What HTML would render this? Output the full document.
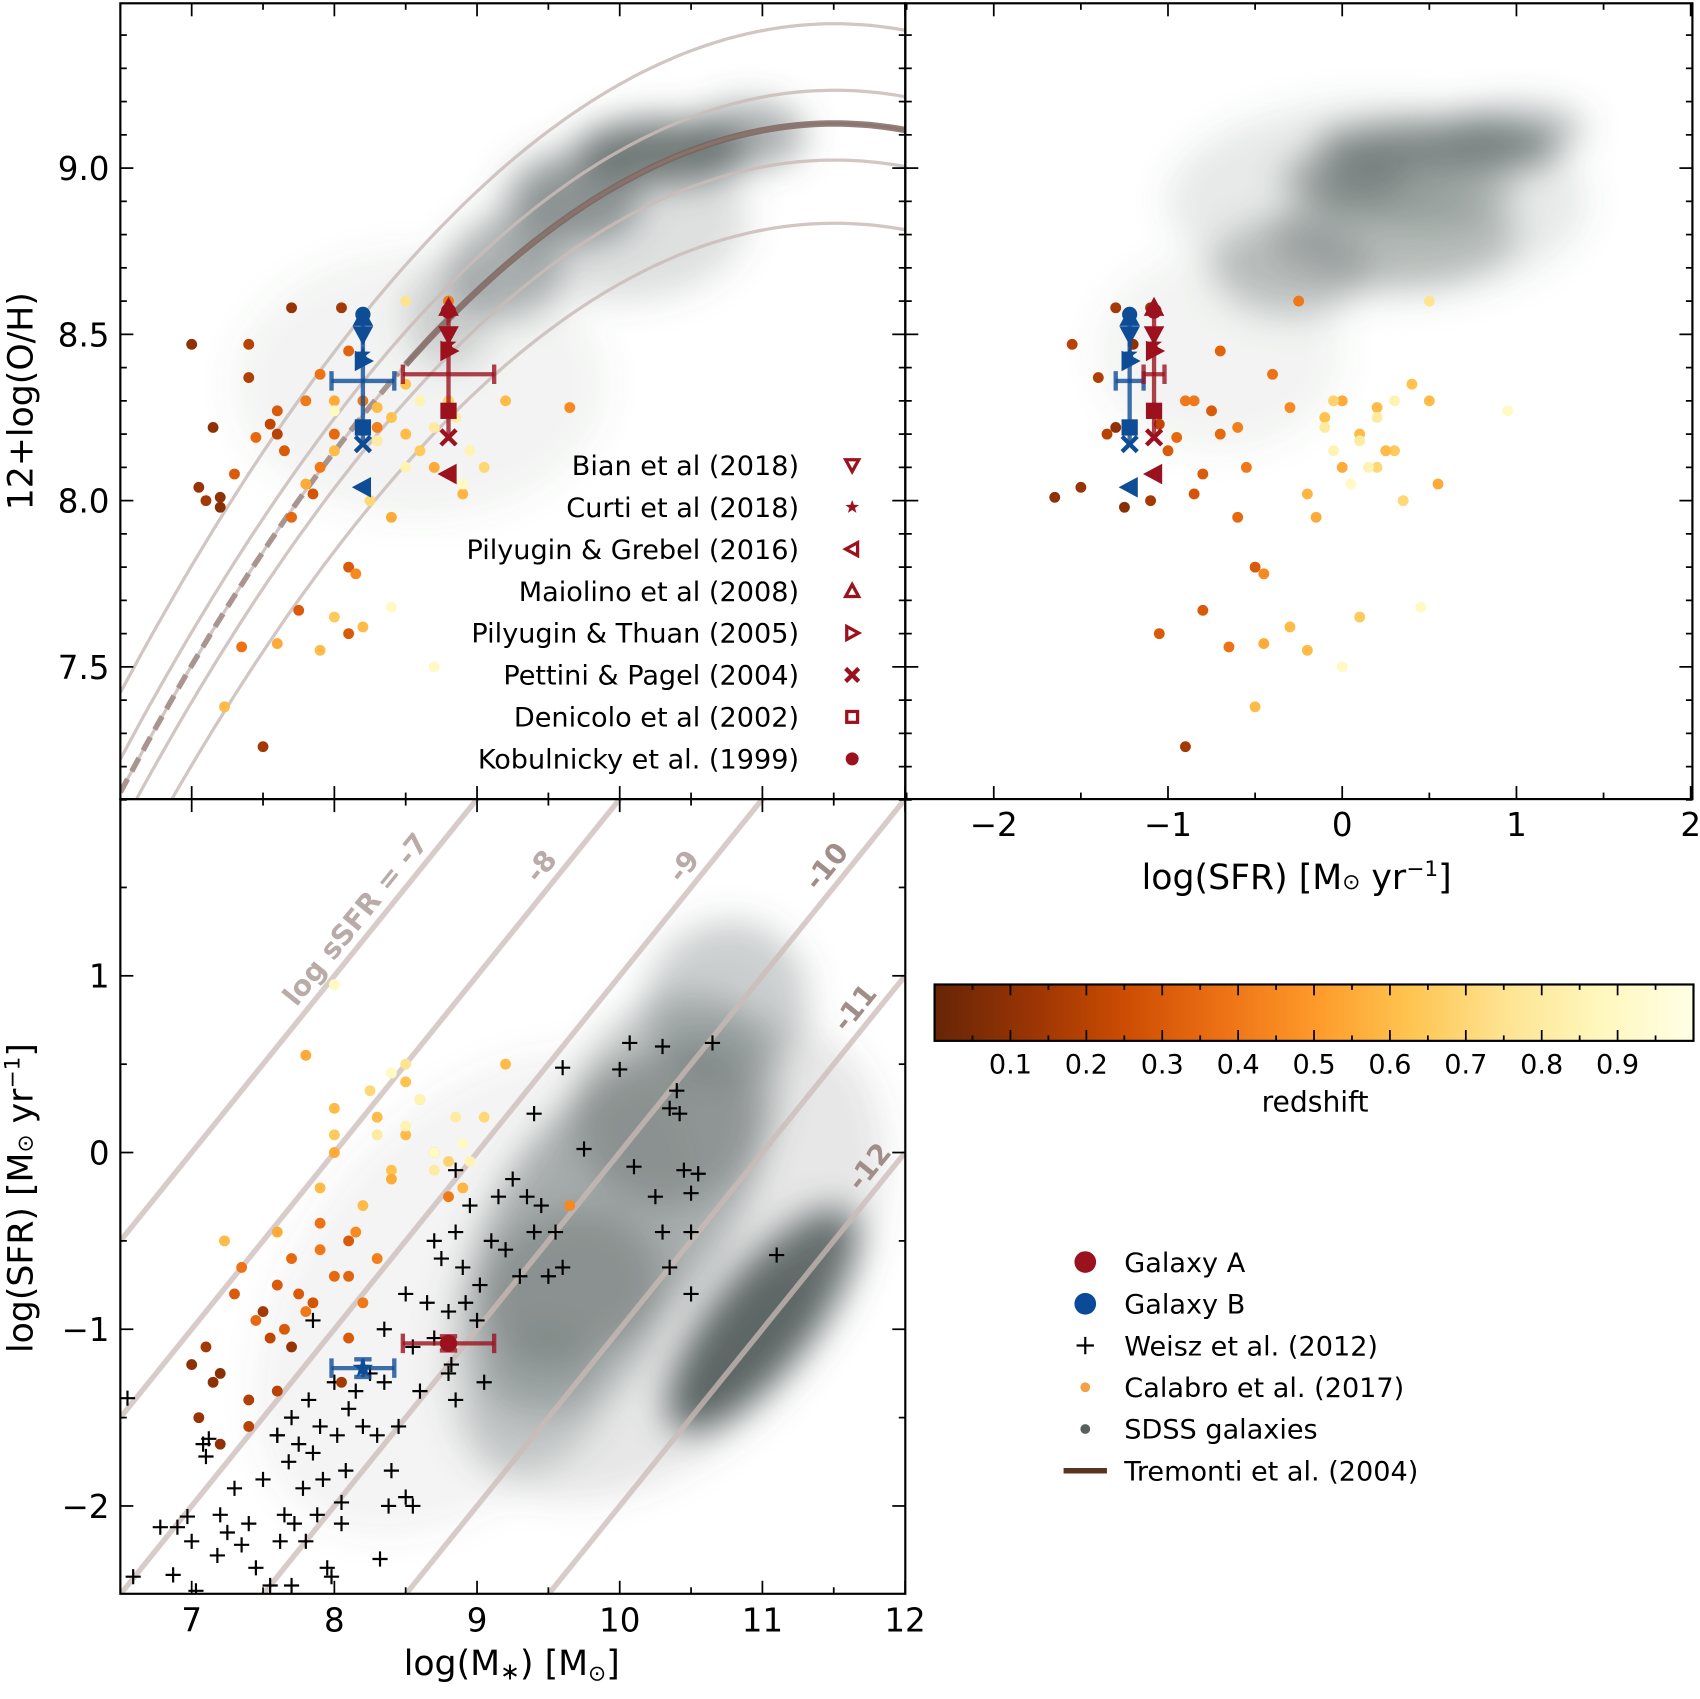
<!DOCTYPE html>
<html><head><meta charset="utf-8"><style>
html,body{margin:0;padding:0;background:#fff;overflow:hidden;width:1700px;height:1699px}
svg{display:block;overflow:hidden}
text{font-family:"DejaVu Sans","Liberation Sans",sans-serif;fill:#000}
</style></head><body>
<svg id="fig" width="1700" height="1699" viewBox="0 0 1568 1567" xmlns="http://www.w3.org/2000/svg">
<defs>
<clipPath id="cTL"><rect x="111" y="3" width="724" height="734"/></clipPath>
<clipPath id="cTR"><rect x="835" y="3" width="726" height="734"/></clipPath>
<clipPath id="cBL"><rect x="111" y="737" width="724" height="733"/></clipPath>
<filter id="blur" x="-50%" y="-50%" width="200%" height="200%"><feGaussianBlur stdDeviation="16"/></filter>
<linearGradient id="cmap" x1="0" x2="1" y1="0" y2="0">
<stop offset="0" stop-color="#662506"/><stop offset="0.125" stop-color="#993404"/><stop offset="0.25" stop-color="#cc4c02"/><stop offset="0.375" stop-color="#ec7014"/><stop offset="0.5" stop-color="#fe9929"/><stop offset="0.625" stop-color="#fec44f"/><stop offset="0.75" stop-color="#fee391"/><stop offset="0.875" stop-color="#fff7bc"/><stop offset="1" stop-color="#ffffe5"/>
</linearGradient>
</defs>
<g id="gTL" clip-path="url(#cTL)"></g>
<g id="gTR" clip-path="url(#cTR)"></g>
<g id="gBL" clip-path="url(#cBL)"></g>
<g id="gAx"></g>
</svg>
<script>
// ---- data ----
const calMass=[7.0,7.05,7.1,7.15,7.2,7.4,7.5,7.7,8.05,7.4,7.6,7.2,7.55,7.3,7.45,7.6,7.7,7.8,7.9,8.0,8.1,8.2,7.65,7.35,7.75,8.1,8.15,9.65,7.85,8.3,7.9,8.1,8.8,7.6,7.9,8.0,8.2,8.0,8.3,8.4,8.5,8.6,8.7,8.9,9.2,8.5,7.8,8.0,7.23,8.25,8.8,8.4,9.05,8.3,8.5,8.6,8.7,8.9,8.4,8.7,8.5,8.85,8.95,8.0];
const calOH=[8.47,8.04,8.0,8.22,8.01,8.37,7.26,8.58,8.58,8.47,8.2,7.98,8.23,8.08,8.19,8.27,7.95,8.3,8.1,8.2,7.8,8.3,8.15,7.56,7.67,7.6,7.78,8.28,8.02,8.22,8.38,8.45,8.6,7.57,7.55,7.65,7.62,8.3,8.28,8.25,8.2,8.15,8.1,8.02,8.3,8.35,8.05,8.15,7.38,8.0,8.3,7.95,8.1,8.18,8.1,8.3,8.22,8.05,7.68,7.5,8.6,8.25,8.15,8.27];
const calSFR=[-1.2,-1.5,-1.1,-1.3,-1.65,-1.4,-0.9,-1.1,-1.3,-1.55,-1.35,-1.25,-1.05,-0.8,-0.95,-0.75,-0.6,-0.9,-0.55,-0.7,-0.5,-0.85,-1.0,-0.65,-0.8,-1.05,-0.45,-0.3,-0.85,-0.6,-0.4,-0.7,-0.25,-0.45,-0.2,0.1,-0.3,0.0,0.2,-0.1,0.1,0.3,0.0,-0.2,0.5,0.4,0.55,0.25,-0.5,0.35,-0.05,-0.15,0.2,0.1,0.15,0.3,-0.1,0.05,0.45,0.0,0.5,0.2,-0.05,0.95];
const calZ=[0.1,0.12,0.15,0.1,0.1,0.18,0.15,0.12,0.15,0.2,0.2,0.08,0.22,0.3,0.35,0.3,0.35,0.4,0.4,0.35,0.3,0.4,0.3,0.38,0.3,0.3,0.45,0.45,0.28,0.42,0.38,0.33,0.4,0.55,0.6,0.65,0.6,0.55,0.6,0.62,0.6,0.65,0.55,0.58,0.6,0.62,0.55,0.6,0.6,0.7,0.68,0.55,0.7,0.8,0.85,0.85,0.8,0.9,0.9,0.9,0.75,0.8,0.85,0.9];
const weiszMass=[6.55,6.59,6.78,6.87,6.9,6.97,7.0,7.03,7.08,7.1,7.12,7.18,7.2,7.25,7.3,7.35,7.4,7.45,7.5,7.55,7.6,7.62,7.65,7.68,7.7,7.72,7.75,7.78,7.8,7.82,7.85,7.88,7.9,7.92,7.95,7.98,8.0,8.02,8.05,8.08,8.1,8.15,8.2,8.25,8.3,8.35,8.4,8.45,8.5,8.55,8.38,8.32,7.85,7.7,8.05,7.6,8.35,8.5,8.55,8.65,8.7,8.75,8.8,8.82,8.85,8.9,8.92,8.95,9.0,9.02,9.05,9.1,9.2,9.25,9.3,9.35,9.4,9.45,9.5,9.55,9.6,9.4,9.6,9.75,8.8,8.6,8.7,8.85,9.15,8.85,10.0,10.07,10.3,10.4,10.35,10.42,10.65,10.1,10.25,10.3,10.35,10.45,10.55,10.5,10.5,10.5,11.1];
const weiszSFR=[-1.39,-2.4,-2.12,-2.39,-2.12,-2.06,-2.2,-2.48,-1.65,-1.72,-1.62,-2.28,-2.05,-2.15,-1.9,-2.22,-2.1,-2.35,-1.85,-2.45,-1.6,-2.2,-2.05,-1.75,-1.5,-2.1,-1.65,-1.9,-2.2,-1.4,-1.7,-2.05,-1.55,-1.85,-2.35,-2.4,-1.3,-1.6,-2.1,-1.8,-1.45,-1.35,-1.55,-1.25,-1.6,-1.3,-1.8,-1.55,-1.95,-2.0,-2.0,-2.3,-0.95,-2.45,-1.98,-1.6,-1.0,-0.8,-1.1,-0.85,-0.5,-0.6,-0.9,-1.2,-0.45,-0.65,-0.85,-0.3,-0.95,-0.75,-1.3,-0.5,-0.55,-0.15,-0.7,-0.25,-0.45,-0.3,-0.7,-0.45,-0.65,0.22,0.48,0.02,-1.25,-1.35,-1.05,-1.4,-0.25,-0.1,0.47,0.62,0.6,0.35,0.25,0.22,0.62,-0.08,-0.25,-0.45,-0.65,-0.1,-0.12,-0.23,-0.45,-0.8,-0.58];
// SDSS density blobs: centre, spread (data units), opacity
const tlBlobMass=[10.3,9.7,9.2,8.8,10.9,10.0,8.6];
const tlBlobOH=[9.05,8.9,8.7,8.55,9.1,8.85,8.35];
const tlBlobSx=[0.6,0.45,0.4,0.3,0.4,0.9,1.3];
const tlBlobSy=[0.1,0.13,0.15,0.15,0.1,0.25,0.4];
const tlBlobA=[0.8,0.6,0.45,0.25,0.5,0.2,0.08];
const trBlobSFR=[0.55,0.0,0.3,-0.3,0.2,-0.7,1.0,0.4];
const trBlobOH=[9.06,8.97,8.8,8.7,8.9,8.45,9.12,8.93];
const trBlobSx=[0.7,0.35,0.7,0.45,1.2,0.7,0.4,0.6];
const trBlobSy=[0.08,0.07,0.15,0.15,0.3,0.3,0.07,0.1];
const trBlobA=[0.7,0.5,0.35,0.3,0.14,0.08,0.4,0.35];
const blBlobMass=[10.0,10.4,9.6,9.4,11.0,10.9,10.3,9.0,10.75];
const blBlobSFR=[-0.3,0.3,-0.9,-1.4,-0.95,-1.1,-0.6,-0.8,0.85];
const blBlobSx=[1.0,0.6,0.6,0.4,0.75,0.5,1.5,1.5,0.45];
const blBlobSy=[0.6,0.55,0.5,0.35,0.28,0.22,1.0,1.0,0.45];
const blBlobA=[0.4,0.35,0.35,0.2,0.9,0.6,0.15,0.07,0.3];
const tremontiOffsets=[0.3,0.1,0,-0.11,-0.3];
const ssfrLevels=[-7,-8,-9,-10,-11,-12];
const ssfrLabels=['log sSFR = -7','-8','-9','-10','-11','-12'];
const calibNames=['Bian et al (2018)','Curti et al (2018)','Pilyugin & Grebel (2016)','Maiolino et al (2008)','Pilyugin & Thuan (2005)','Pettini & Pagel (2004)','Denicolo et al (2002)','Kobulnicky et al. (1999)'];
const calibMarkers=['tdown','star','tleft','tup','tright','x','square','circle'];
const galAOH=[8.5,8.47,8.08,8.58,8.45,8.19,8.27,8.57];
const galBOH=[8.5,8.44,8.04,8.55,8.42,8.17,8.22,8.56];
const galAMass=8.8, galAMassErr=0.3, galASFR=-1.08, galASFRErr=0.06, galAOHc=8.38, galAOHlo=8.18, galAOHhi=8.58;
const galBMass=8.2, galBMassLo=7.98, galBMassHi=8.42, galBSFR=-1.22, galBSFRErr=0.08, galBOHc=8.36, galBOHlo=8.17, galBOHhi=8.56;
const cbTicks=[0.1,0.2,0.3,0.4,0.5,0.6,0.7,0.8,0.9];
// ---- scales ----
const xM=m=>111+(m-6.5)*131.6;
const yOH=o=>155-(o-9.0)*306.7;
const xS=s=>1238+s*160.7;
const yS=s=>1063-s*163;
const NS='http://www.w3.org/2000/svg';
function mk(tag,attrs,parent){const e=document.createElementNS(NS,tag);for(const k in attrs)e.setAttribute(k,attrs[k]);parent.appendChild(e);return e;}
const stops=[[0,[102,37,6]],[0.125,[153,52,4]],[0.25,[204,76,2]],[0.375,[236,112,20]],[0.5,[254,153,41]],[0.625,[254,196,79]],[0.75,[254,227,145]],[0.875,[255,247,188]],[1,[255,255,229]]];
function cmap(z){for(let i=1;i<stops.length;i++){if(z<=stops[i][0]){const a=stops[i-1],b=stops[i],t=(z-a[0])/(b[0]-a[0]);return 'rgb('+a[1].map((v,j)=>Math.round(v+(b[1][j]-v)*t)).join(',')+')';}}return 'rgb(255,255,229)';}
const gTL=document.getElementById('gTL'),gTR=document.getElementById('gTR'),gBL=document.getElementById('gBL'),gAx=document.getElementById('gAx');
function blobs(parent,xs,ys,sx,sy,al,fx,fy,ux,uy,name){
  const g=mk('g',{filter:'url(#blur)'},parent);
  
  
  for(let i=0;i<xs.length;i++){
    const e=mk('ellipse',{cx:fx(xs[i]),cy:fy(ys[i]),rx:sx[i]*ux,ry:sy[i]*uy,fill:'#56605f','fill-opacity':al[i]},g);
    
    
  }
}
blobs(gTL,tlBlobMass,tlBlobOH,tlBlobSx,tlBlobSy,tlBlobA,xM,yOH,131.6,306.7,'sdss-cloud-mz');
blobs(gTR,trBlobSFR,trBlobOH,trBlobSx,trBlobSy,trBlobA,xS,yOH,160.7,306.7,'sdss-cloud-sfr-z');
(function(){
  const g=mk('g',{filter:'url(#blur)'},gBL);
  
  
  for(let i=0;i<blBlobMass.length;i++){
    const cx=xM(blBlobMass[i]),cy=yS(blBlobSFR[i]);
    const e=mk('ellipse',{cx:cx,cy:cy,rx:blBlobSx[i]*170,ry:blBlobSy[i]*163,fill:'#56605f','fill-opacity':blBlobA[i],transform:'rotate(-51 '+cx+' '+cy+')'},g);
    
    
  }
})();
function trem(m){return -1.492+1.847*m-0.08026*m*m;}
tremontiOffsets.forEach((off,k)=>{
  let d='';for(let m=6.5;m<=12.01;m+=0.05){d+=(d?'L':'M')+xM(m).toFixed(1)+','+yOH(trem(m)+off).toFixed(1);}
  const p=mk('path',{d:d,fill:'none',stroke:'#c9bcb8','stroke-width':3,'stroke-opacity':0.85},gTL);
  
  
});
(function(){
  let d1='',d2='';
  for(let m=6.5;m<=8.5;m+=0.05)d1+=(d1?'L':'M')+xM(m).toFixed(1)+','+yOH(trem(m)).toFixed(1);
  for(let m=8.5;m<=12.01;m+=0.05)d2+=(d2?'L':'M')+xM(m).toFixed(1)+','+yOH(trem(m)).toFixed(1);
  const a=mk('path',{d:d1,fill:'none',stroke:'#a8958f','stroke-width':5,'stroke-dasharray':'14 8'},gTL);
  
  
  const b=mk('path',{d:d2,fill:'none',stroke:'#7a625b','stroke-width':6,'stroke-opacity':0.8},gTL);
  
  
})();
ssfrLevels.forEach((s,i)=>{
  const l=mk('line',{x1:xM(6.5),y1:yS(6.5+s),x2:xM(12),y2:yS(12+s),stroke:'#c9bbb7','stroke-width':5,'stroke-opacity':0.75},gBL);
  
  
});
const lblPos=[[8.2,1.15],[9.5,1.75],[10.5,1.75],[11.5,1.65],[11.7,0.85],[11.8,-0.05]];
ssfrLevels.forEach((s,i)=>{
  const m=lblPos[i][0],x=xM(m),y=yS(m+s)-14;
  const t=mk('text',{x:x,y:y,'font-size':26,'font-weight':'bold','text-anchor':'middle',transform:'rotate(-51 '+x+' '+y+')'},gBL);
  t.style.fill=i<3?'#b8aba8':'#a08e89';
  t.textContent=ssfrLabels[i];
  
  
});
function calPts(parent,fx,fy,xs,ys){
  for(let i=0;i<calZ.length;i++){
    const c=mk('circle',{cx:fx(xs[i]),cy:fy(ys[i]),r:5,fill:cmap(calZ[i])},parent);
    
    
  }
}
for(let i=0;i<weiszMass.length;i++){
  const x=xM(weiszMass[i]),y=yS(weiszSFR[i]);
  const p=mk('path',{d:'M'+(x-7)+','+y+'H'+(x+7)+'M'+x+','+(y-7)+'V'+(y+7),stroke:'#000','stroke-width':2},gBL);
  
  
}
calPts(gTL,xM,yOH,calMass,calOH);
calPts(gTR,xS,yOH,calSFR,calOH);
calPts(gBL,xM,yS,calMass,calSFR);
function marker(parent,type,x,y,col,sz,filled){
  sz=sz||6;let e;const f=filled?col:'none';
  if(type==='circle')e=mk('circle',{cx:x,cy:y,r:sz,fill:col},parent);
  else if(type==='square')e=mk('rect',{x:x-sz+1,y:y-sz+1,width:2*sz-2,height:2*sz-2,fill:f,stroke:col,'stroke-width':3},parent);
  else if(type==='tdown')e=mk('path',{d:`M${x-sz},${y-sz+1}L${x+sz},${y-sz+1}L${x},${y+sz}Z`,fill:f,stroke:col,'stroke-width':3},parent);
  else if(type==='tup')e=mk('path',{d:`M${x-sz},${y+sz-1}L${x+sz},${y+sz-1}L${x},${y-sz}Z`,fill:f,stroke:col,'stroke-width':3},parent);
  else if(type==='tleft')e=mk('path',{d:`M${x+sz-1},${y-sz}L${x+sz-1},${y+sz}L${x-sz},${y}Z`,fill:f,stroke:col,'stroke-width':3},parent);
  else if(type==='tright')e=mk('path',{d:`M${x-sz+1},${y-sz}L${x-sz+1},${y+sz}L${x+sz},${y}Z`,fill:f,stroke:col,'stroke-width':3},parent);
  else if(type==='x')e=mk('path',{d:`M${x-sz},${y-sz}L${x+sz},${y+sz}M${x+sz},${y-sz}L${x-sz},${y+sz}`,stroke:col,'stroke-width':4},parent);
  else if(type==='star'){let d='';for(let k=0;k<10;k++){const r=k%2?sz*0.45:sz*1.1,a=-Math.PI/2+k*Math.PI/5;d+=(k?'L':'M')+(x+r*Math.cos(a)).toFixed(1)+','+(y+r*Math.sin(a)).toFixed(1);}e=mk('path',{d:d+'Z',fill:col},parent);}
  return e;
}
const RED='#9b111e',BLUE='#0f4c96';
function errbar(parent,x1,y1,x2,y2,col,cap,vert){
  const g=mk('g',{stroke:col,'stroke-width':4,'stroke-opacity':0.8},parent);
  mk('line',{x1:x1,y1:y1,x2:x2,y2:y2},g);
  if(vert){mk('line',{x1:x1-cap,y1:y1,x2:x1+cap,y2:y1},g);mk('line',{x1:x2-cap,y1:y2,x2:x2+cap,y2:y2},g);}
  else{mk('line',{x1:x1,y1:y1-cap,x2:x1,y2:y1+cap},g);mk('line',{x1:x2,y1:y2-cap,x2:x2,y2:y2+cap},g);}
  
  
}
function galaxy(parent,fx,xv,xlo,xhi,ohs,ohc,ohlo,ohhi,col,name){
  const g=mk('g',{},parent);
  
  
  errbar(g,fx(xv),yOH(ohlo),fx(xv),yOH(ohhi),col,0,true);
  errbar(g,fx(xlo),yOH(ohc),fx(xhi),yOH(ohc),col,9,false);
  ohs.forEach((o,k)=>{const m=marker(g,calibMarkers[k],fx(xv),yOH(o),col,7,true);
    
    });
}
galaxy(gTL,xM,galBMass,galBMassLo,galBMassHi,galBOH,galBOHc,galBOHlo,galBOHhi,BLUE,'galaxy-b-mz');
galaxy(gTL,xM,galAMass,galAMass-galAMassErr-0.02,galAMass+galAMassErr+0.02,galAOH,galAOHc,galAOHlo,galAOHhi,RED,'galaxy-a-mz');
galaxy(gTR,xS,galBSFR,galBSFR-galBSFRErr,galBSFR+galBSFRErr,galBOH,galBOHc,galBOHlo,galBOHhi,BLUE,'galaxy-b-sfr-z');
galaxy(gTR,xS,galASFR,galASFR-galASFRErr,galASFR+galASFRErr,galAOH,galAOHc,galAOHlo,galAOHhi,RED,'galaxy-a-sfr-z');
(function(){
  const gb=mk('g',{},gBL);
  errbar(gb,xM(galBMassLo),yS(galBSFR),xM(galBMassHi),yS(galBSFR),BLUE,9,false);
  errbar(gb,xM(galBMass),yS(galBSFR-0.05),xM(galBMass),yS(galBSFR+0.05),BLUE,8,true);
  marker(gb,'star',xM(galBMass),yS(galBSFR),BLUE,9);
  const ga=mk('g',{},gBL);
  errbar(ga,xM(galAMass-galAMassErr-0.02),yS(galASFR),xM(galAMass+galAMassErr+0.02),yS(galASFR),RED,9,false);
  errbar(ga,xM(galAMass),yS(galASFR-0.04),xM(galAMass),yS(galASFR+0.04),RED,8,true);
  marker(ga,'circle',xM(galAMass),yS(galASFR),RED,8);
})();
calibNames.forEach((n,k)=>{
  const y=429+k*38.7;
  const t=mk('text',{x:737,y:y+9,'font-size':25,'text-anchor':'end'},gAx);
  t.textContent=n;
  
  
  const m=marker(gAx,calibMarkers[k],786,y,RED,6);
  
  
});
function frame(x,y,w,h,name){const r=mk('rect',{x:x,y:y,width:w,height:h,fill:'none',stroke:'#000','stroke-width':2},gAx);}
function tick(x1,y1,x2,y2){mk('line',{x1:x1,y1:y1,x2:x2,y2:y2,stroke:'#000','stroke-width':1.6},gAx);}
function label(x,y,s,anchor,size,name){const t=mk('text',{x:x,y:y,'font-size':size||30,'text-anchor':anchor||'middle'},gAx);t.textContent=s;return t;}
frame(111,3,724,734,'mz-frame');frame(835,3,726,734,'sfrz-frame');frame(111,737,724,733,'msfr-frame');
for(let i=71;i<=94;i++){const v=i/10,y=yOH(v),maj=(i%5===0);const L=maj?12:6;
  tick(111,y,111+L,y);tick(835,y,835-L,y);tick(835,y,835+L,y);tick(1561,y,1561-L,y);
  if(maj&&i>=75&&i<=90)label(101,y+11,v.toFixed(1),'end',30,'y-tick-label');}
for(let m=6.5;m<=12;m+=0.5){const x=xM(m),maj=Math.abs(m-Math.round(m))<0.01,L=maj?12:6;
  tick(x,3,x,3+L);tick(x,737,x,737-L);tick(x,737,x,737+L);tick(x,1470,x,1470-L);
  if(maj)label(x,1505,String(m),'middle',30,'x-tick-label');}
for(let s=-2.5;s<=2;s+=0.5){const x=xS(s),maj=Math.abs(s-Math.round(s))<0.01,L=maj?12:6;
  tick(x,3,x,3+L);tick(x,737,x,737-L);
  if(maj)label(x,771,s<0?'\u2212'+Math.abs(s):String(s),'middle',30,'x-tick-label');}
for(let s=-2.5;s<=1.5;s+=0.5){const y=yS(s),maj=Math.abs(s-Math.round(s))<0.01,L=maj?12:6;
  if(y<737||y>1470)continue;
  tick(111,y,111+L,y);tick(835,y,835-L,y);
  if(maj)label(101,y+11,s<0?'\u2212'+Math.abs(s):String(s),'end',30,'y-tick-label');}
(function(){
  let t=label(30,370,'12+log(O/H)','middle',32,'y-axis-title');t.setAttribute('transform','rotate(-90 30 370)');
  t=label(1196,820,'','middle',32,'x-axis-title-sfr');
  t.innerHTML='log(SFR) [M<tspan font-size="20">\u2299</tspan> yr<tspan font-size="20" dy="-12">\u22121</tspan><tspan dy="12">]</tspan>';
  t=label(472,1545,'','middle',32,'x-axis-title-mass');
  t.innerHTML='log(M<tspan font-size="22" dy="4">\u2217</tspan><tspan dy="-4">) [M</tspan><tspan font-size="20" dy="5">\u2299</tspan><tspan dy="-5">]</tspan>';
  t=label(30,1105,'','middle',32,'y-axis-title-sfr');
  t.innerHTML='log(SFR) [M<tspan font-size="20">\u2299</tspan> yr<tspan font-size="20" dy="-12">\u22121</tspan><tspan dy="12">]</tspan>';
  t.setAttribute('transform','rotate(-90 30 1105)');
})();
(function(){
  const r=mk('rect',{x:862,y:908,width:700,height:52,fill:'url(#cmap)',stroke:'#000','stroke-width':2},gAx);
  
  for(let i=1;i<20;i++){const z=i/20,x=862+z*700,maj=(i%2===0),L=maj?10:5;tick(x,908,x,908+L);tick(x,960,x,960-L);}
  cbTicks.forEach(z=>label(862+z*700,990,z.toFixed(1),'middle',25,'colorbar-tick-label'));
  label(1213,1025,'redshift','middle',26,'colorbar-title');
})();
(function(){
  const rows=['Galaxy A','Galaxy B','Weisz et al. (2012)','Calabro et al. (2017)','SDSS galaxies','Tremonti et al. (2004)'];
  rows.forEach((n,k)=>{const y=1164+k*38.5;
    label(1037,y+9,n,'start',25,'legend-label');
    let m;
    if(k===0)m=mk('circle',{cx:1001,cy:y,r:10,fill:RED},gAx);
    else if(k===1)m=mk('circle',{cx:1001,cy:y,r:10,fill:'#0b4a96'},gAx);
    else if(k===2)m=mk('path',{d:`M993,${y}H1009M1001,${y-8}V${y+8}`,stroke:'#000','stroke-width':2},gAx);
    else if(k===3)m=mk('circle',{cx:1001,cy:y,r:4.5,fill:'#f5a047'},gAx);
    else if(k===4)m=mk('circle',{cx:1001,cy:y,r:4.5,fill:'#56605f'},gAx);
    else m=mk('line',{x1:981,y1:y,x2:1021,y2:y,stroke:'#5a3420','stroke-width':5},gAx);
    
    
  });
})();
</script>
</body></html>
